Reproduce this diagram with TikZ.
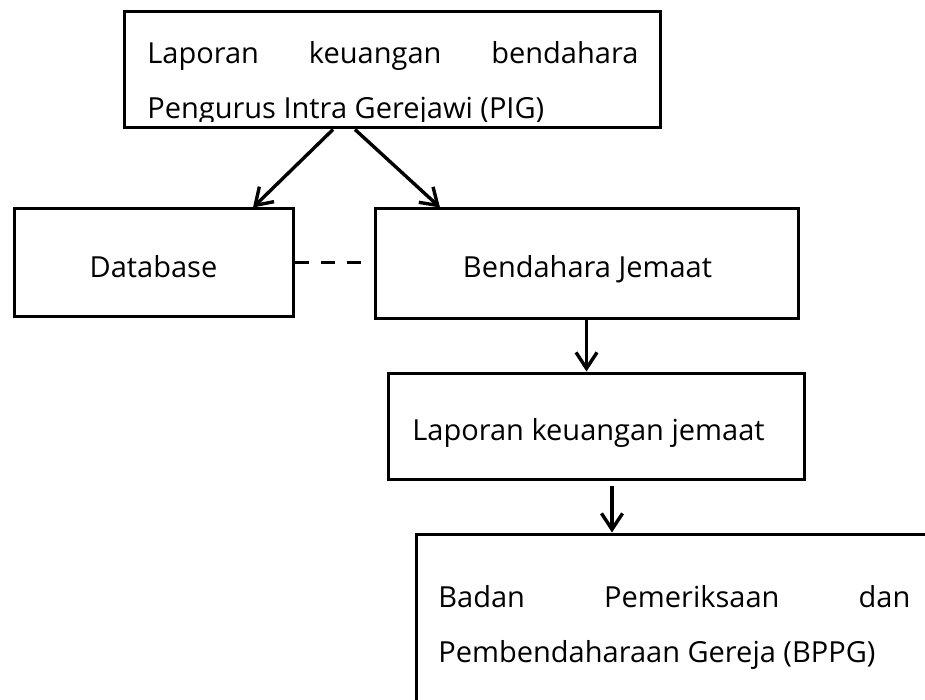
\documentclass[tikz,border=0pt]{standalone}
\usepackage{fontspec}
\setmainfont{Open Sans}
\usetikzlibrary{arrows.meta}

\tikzset{every picture/.style={line width=0.75pt}}
\tikzset{
  box/.style={draw, rectangle, line width=3pt, inner sep=0pt},
  lbl/.style={inner sep=0pt, font=\fontsize{29}{55}\selectfont},
  flow/.style={line width=3.4pt, -{Straight Barb[length=16pt,width=21pt,line width=3.4pt]}},
}

\begin{document}
\begin{tikzpicture}[x=1pt,y=1pt,yscale=-1,xscale=1]
\useasboundingbox (0,0) rectangle (925,700);
\fill[white] (0,0) rectangle (925,700);

%Shape: Rectangle [pig]
\node[box, minimum width=536pt, minimum height=116pt] (pig) at (392,70) {};
%Shape: Rectangle [db]
\node[box, minimum width=279pt, minimum height=107pt] (db) at (153.5,262.5) {};
%Shape: Rectangle [bj]
\node[box, minimum width=423pt, minimum height=109pt] (bj) at (586.5,263.5) {};
%Shape: Rectangle [lkj]
\node[box, minimum width=416pt, minimum height=106pt] (lkj) at (596,426) {};
%Shape: Rectangle [bppg], runs off the page
\node[box, minimum width=524pt, minimum height=186pt] (bppg) at (678,627) {};

% Text Node (cut at the bottom of the box)
\begin{scope}
\clip (130,15) rectangle (655,121.5);
\node[lbl, anchor=base west] (pigA) at (147,64) {\makebox[491pt][s]{Laporan keuangan bendahara}};
\node[lbl, anchor=base west] (pigB) at (147,119) {Pengurus Intra Gerejawi (PIG)};
\end{scope}
% Text Node
\node[lbl, anchor=base] (dbtxt) at (153.5,278) {Database};
% Text Node
\node[lbl, anchor=base] (bjtxt) at (587.5,278) {Bendahara Jemaat};
% Text Node
\node[lbl, anchor=base west] (lkjtxt) at (412,440) {Laporan keuangan jemaat};
% Text Node
\node[lbl, anchor=base west] (bppgA) at (438,607) {\makebox[472pt][s]{Badan Pemeriksaan dan}};
% Text Node
\node[lbl, anchor=base west] (bppgB) at (438,662) {Pembendaharaan Gereja (BPPG)};

% Connection
\draw[flow] ([xshift=-59pt]pig.south) -- ([xshift=99.5pt]db.north);
% Connection
\draw[flow] ([xshift=-37pt]pig.south) -- ([xshift=-146.5pt]bj.north);
% Connection
\draw[line width=3.8pt, dash pattern=on 14pt off 12pt, shorten >=10pt] (db.east) -- (db.east -| bj.west);
% Connection
\draw[flow] (bj.south) -- (bj.south |- lkj.north);
% Connection
\draw[flow, shorten <=5pt] ([xshift=16pt]lkj.south) -- ([xshift=16pt]lkj.south |- bppg.north);

\end{tikzpicture}
\end{document}
